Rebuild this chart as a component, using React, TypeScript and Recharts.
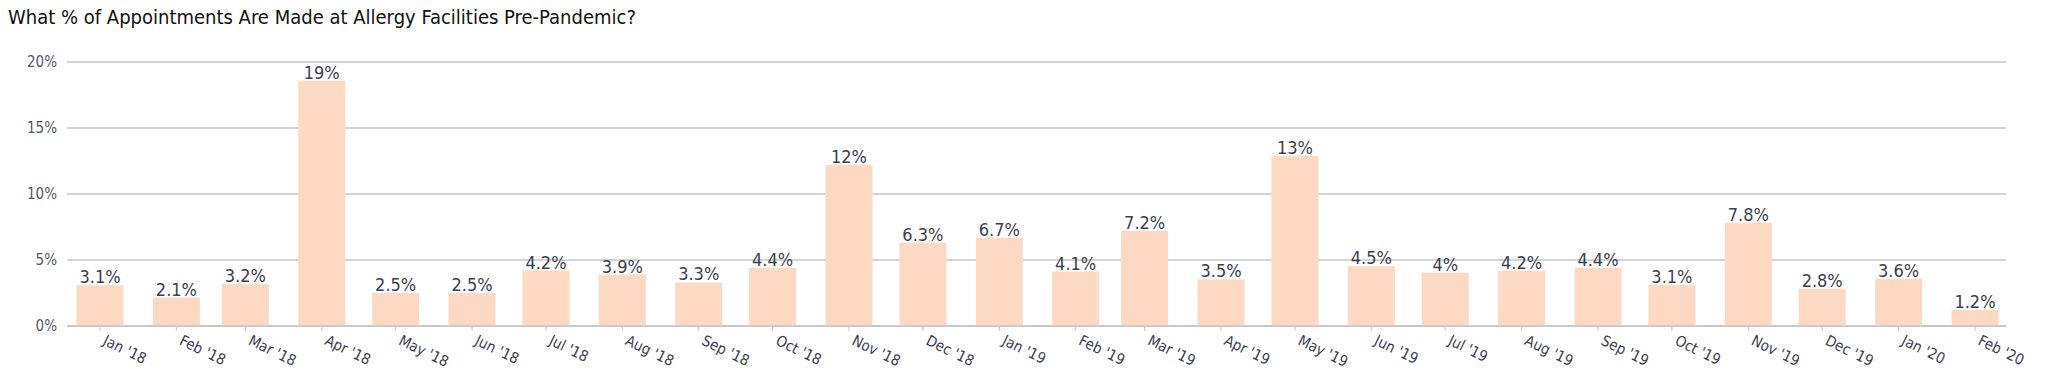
import { BarChart, Bar, XAxis, YAxis, CartesianGrid, LabelList } from "recharts";

const MONTHS = [
  "Jan '18", "Feb '18", "Mar '18", "Apr '18", "May '18", "Jun '18", "Jul '18", "Aug '18", "Sep '18",
  "Oct '18", "Nov '18", "Dec '18", "Jan '19", "Feb '19", "Mar '19", "Apr '19", "May '19", "Jun '19",
  "Jul '19", "Aug '19", "Sep '19", "Oct '19", "Nov '19", "Dec '19", "Jan '20", "Feb '20",
];

const SHARE = [
  3.08, 2.15, 3.2, 18.58, 2.5, 2.5, 4.2, 3.9, 3.3, 4.39, 12.2, 6.31, 6.67, 4.12, 7.22, 3.53, 12.88,
  4.52, 4.04, 4.19, 4.42, 3.1, 7.83, 2.82, 3.58, 1.21,
];

const Y_TICKS = [0, 5, 10, 15, 20];

const DAY = 86400000;
const data = MONTHS.map((label, i) => ({
  label,
  t: Date.UTC(2018 + Math.floor(i / 12), i % 12, 1),
  share: SHARE[i],
}));
const TICKS = data.map((d) => d.t);
const DOMAIN = [TICKS[0] - 13.4 * DAY, TICKS[TICKS.length - 1] + 12.6 * DAY];
const labelFor = (t: number) => data.find((d) => d.t === t)?.label ?? "";

const FONT = "'DejaVu Sans Condensed', 'Liberation Sans Narrow', sans-serif";
const TEXT = "#3c3e50";

function MonthTick({ x, y, payload }: any) {
  const tx = x + 2;
  const ty = y + 11;
  return (
    <text
      x={tx}
      y={ty}
      transform={`rotate(26, ${tx}, ${ty})`}
      textAnchor="start"
      fontSize={15}
      fill={TEXT}
      fontFamily={FONT}
    >
      {labelFor(payload.value)}
    </text>
  );
}

const fmt = (v: any) => `${Number(Number(v).toPrecision(2))}%`;

export default function App() {
  return (
    <div style={{ position: "absolute", left: 0, top: 0, width: 2048, height: 385, background: "#fff" }}>
      <div
        style={{
          position: "absolute",
          left: 8,
          top: 5,
          fontFamily: FONT,
          fontSize: 20,
          color: "#111",
        }}
      >
        What % of Appointments Are Made at Allergy Facilities Pre-Pandemic?
      </div>
      <BarChart width={2048} height={385} data={data} margin={{ top: 62, right: 42, left: 7, bottom: 0 }}>
        <CartesianGrid vertical={false} stroke="#c6c6c6" strokeWidth={1.5} />
        <XAxis
          dataKey="t"
          type="number"
          scale="time"
          domain={DOMAIN}
          ticks={TICKS}
          interval={0}
          height={59}
          axisLine={{ stroke: "#c6c6c6", strokeWidth: 1.5 }}
          tickLine={{ stroke: "#c6c6c6" }}
          tickSize={5}
          tick={<MonthTick />}
        />
        <YAxis
          domain={[0, 20]}
          ticks={Y_TICKS}
          width={60}
          axisLine={false}
          tickLine={false}
          tickFormatter={(v) => `${v}%`}
          tick={{ fontSize: 15, fill: "#55566a", fontFamily: FONT }}
          tickMargin={4}
        />
        <Bar dataKey="share" fill="#fdd9c3" barSize={47} isAnimationActive={false}>
          <LabelList
            dataKey="share"
            position="top"
            offset={2}
            formatter={fmt}
            fill={TEXT}
            fontSize={18}
            fontFamily={FONT}
          />
        </Bar>
      </BarChart>
    </div>
  );
}
